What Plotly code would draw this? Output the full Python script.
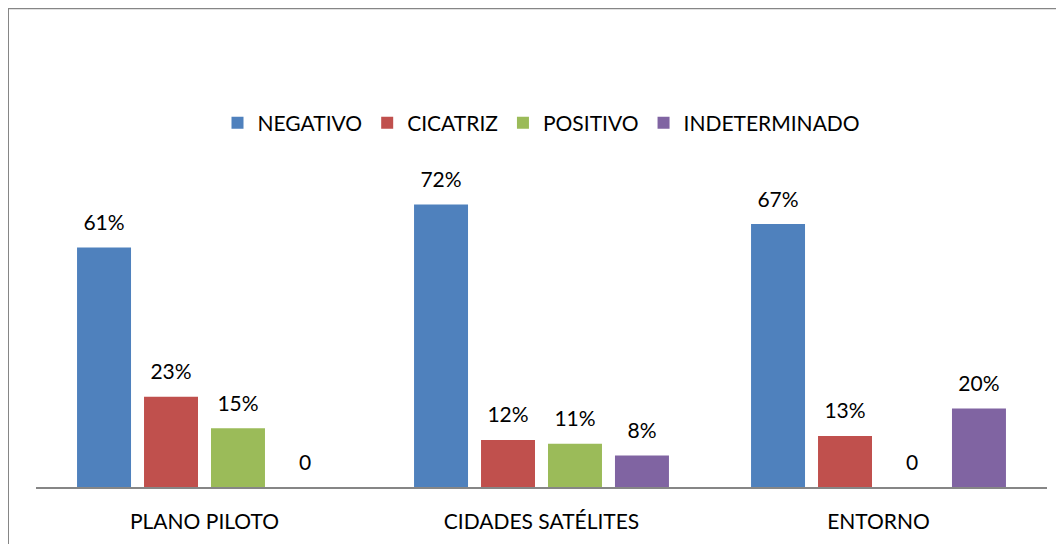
import plotly.graph_objects as go

categories = ["PLANO PILOTO", "CIDADES SATÉLITES", "ENTORNO"]
series_names = ["NEGATIVO", "CICATRIZ", "POSITIVO", "INDETERMINADO"]
series_values = [
    [61, 72, 67],
    [23, 12, 13],
    [15, 11, 0],
    [0, 8, 20],
]
series_labels = [
    ["61%", "72%", "67%"],
    ["23%", "12%", "13%"],
    ["15%", "11%", "0"],
    ["0", "8%", "20%"],
]
colors = ["#4F81BD", "#C0504D", "#9BBB59", "#8064A2"]

FONT = "Lato"
FS = 21
GAP = 0.205

fig = go.Figure()
for name, vals, col in zip(series_names, series_values, colors):
    fig.add_trace(go.Bar(
        x=categories, y=vals, name=name,
        marker=dict(color=col, line=dict(width=0)),
    ))

# value labels, grouped the same way as the bars
for name, vals, labels in zip(series_names, series_values, series_labels):
    fig.add_trace(go.Scatter(
        x=categories, y=vals, text=labels, mode="markers+text",
        textposition="top center", cliponaxis=False, showlegend=False,
        hoverinfo="skip",
        marker=dict(size=18, color="rgba(0,0,0,0)"),
        textfont=dict(family=FONT, size=FS, color="#000000"),
    ))

fig.update_layout(
    width=1064, height=544,
    margin=dict(l=28, r=25, t=165, b=65),
    paper_bgcolor="white", plot_bgcolor="white",
    barmode="group", bargap=GAP, bargroupgap=0.194,
    scattermode="group", scattergap=GAP,
    font=dict(family=FONT, size=FS, color="#000000"),
    showlegend=True,
    legend=dict(orientation="h", x=0.5, xanchor="center", y=1.159, yanchor="middle",
                font=dict(family=FONT, size=FS), itemwidth=30),
    xaxis=dict(showline=True, linecolor="#868686", linewidth=2, ticks="",
               automargin=False, ticklabelstandoff=15,
               tickfont=dict(family=FONT, size=FS)),
    yaxis=dict(range=[0, 80], visible=False, showgrid=False, zeroline=False),
)

# outer chart border
fig.add_shape(type="rect", xref="paper", yref="paper",
              x0=-0.0277, x1=1.1, y0=-0.5, y1=1.525,
              line=dict(color="#868686", width=2), fillcolor="rgba(0,0,0,0)")

fig.write_html("out.html")
